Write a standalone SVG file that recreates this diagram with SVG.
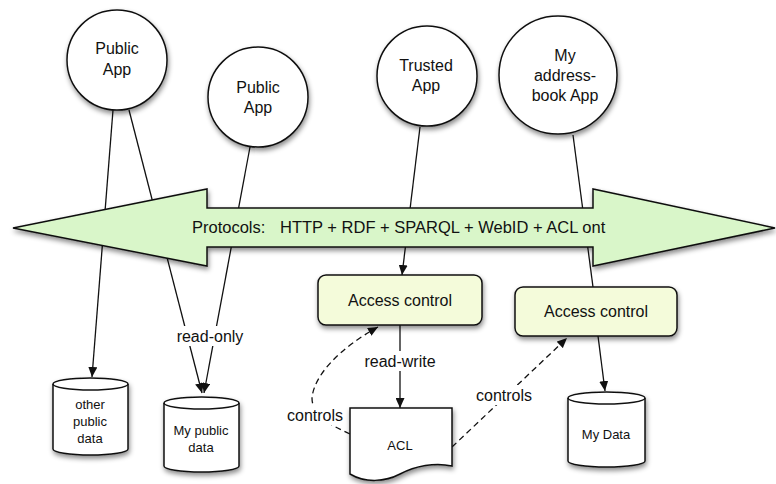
<svg xmlns="http://www.w3.org/2000/svg" width="776" height="484" viewBox="0 0 776 484">
<style>
text{font-family:"Liberation Sans",Arial,sans-serif;fill:#111;text-anchor:middle}
.big{font-size:16px}
.sm{font-size:13px}
.node{stroke:#111;stroke-width:1.5}
.circ{fill:#fff}
.box{fill:#f4fbda}
.doc{fill:#fff}
.cyl{fill:#fff}
.line{fill:none;stroke:#111;stroke-width:1.3}
.dash{fill:none;stroke:#111;stroke-width:1.3;stroke-dasharray:6,4}
.lbl{fill:#fff}
</style>
<defs>
<filter id="sh" x="-20%" y="-20%" width="140%" height="150%">
<feDropShadow dx="1" dy="3" stdDeviation="2.5" flood-color="#000" flood-opacity="0.45"/>
</filter>
<marker id="ah" markerUnits="userSpaceOnUse" markerWidth="10" markerHeight="9" refX="10" refY="4.5" orient="auto">
<path d="M0,0 L10,4.5 L0,9 z" fill="#111"/>
</marker>
</defs>
<rect width="776" height="484" fill="#fff"/>
<g id="connectors">
<line class="line" x1="113" y1="110" x2="92" y2="377" marker-end="url(#ah)"/>
<line class="line" x1="129" y1="110" x2="202" y2="393" marker-end="url(#ah)"/>
<line class="line" x1="250" y1="147" x2="204" y2="393" marker-end="url(#ah)"/>
<line class="line" x1="420" y1="127" x2="402" y2="275" marker-end="url(#ah)"/>
<line class="line" x1="573" y1="135" x2="593" y2="287"/>
<line class="line" x1="400" y1="325" x2="400" y2="408" marker-end="url(#ah)"/>
<line class="line" x1="598" y1="336" x2="605" y2="391" marker-end="url(#ah)"/>
<path class="dash" d="M350,434 C330,425 312,415 312,398 C314,375 340,348 378,327" marker-end="url(#ah)"/>
<line class="dash" x1="452" y1="447" x2="567" y2="338" marker-end="url(#ah)"/>
<rect class="lbl" x="176" y="326" width="68" height="20"/>
<text class="big" x="210" y="342">read-only</text>
<rect class="lbl" x="362" y="351" width="76" height="20"/>
<text class="big" x="400" y="367">read-write</text>
<rect class="lbl" x="285" y="405" width="60" height="20"/>
<text class="big" x="315" y="421">controls</text>
<rect class="lbl" x="473" y="385" width="62" height="20"/>
<text class="big" x="504" y="401">controls</text>
</g>
<g id="protocols">
<path class="node" fill="#d9f6c9" filter="url(#sh)" d="M13,228 L207,189 L207,208 L593,208 L593,189 L775,228 L593,266 L593,247 L207,247 L207,266 Z"/>
<text x="192" y="233" style="text-anchor:start;font-size:16.5px">Protocols:<tspan x="280">HTTP + RDF + SPARQL + WebID + ACL ont</tspan></text>
</g>
<g id="public-app-1">
<circle class="node circ" filter="url(#sh)" cx="117" cy="60" r="50"/>
<text class="big" x="117" y="54">Public</text>
<text class="big" x="117" y="75">App</text>
</g>
<g id="public-app-2">
<circle class="node circ" filter="url(#sh)" cx="258" cy="97" r="50"/>
<text class="big" x="258" y="93">Public</text>
<text class="big" x="258" y="113">App</text>
</g>
<g id="trusted-app">
<circle class="node circ" filter="url(#sh)" cx="427" cy="76" r="50"/>
<text class="big" x="426" y="71">Trusted</text>
<text class="big" x="426" y="91">App</text>
</g>
<g id="addressbook-app">
<circle class="node circ" filter="url(#sh)" cx="558" cy="75" r="59"/>
<text class="big" x="565" y="61">My</text>
<text class="big" x="565" y="81">address-</text>
<text class="big" x="565" y="101">book App</text>
</g>
<g id="access-control-1">
<rect class="node box" filter="url(#sh)" x="318" y="275" width="164" height="50" rx="8"/>
<text class="big" x="400" y="306">Access control</text>
</g>
<g id="access-control-2">
<rect class="node box" filter="url(#sh)" x="515" y="287" width="162" height="49" rx="8"/>
<text class="big" x="596" y="317">Access control</text>
</g>
<g id="other-public-data">
<path class="node cyl" filter="url(#sh)" d="M53,384 A37.5,6 0 0 1 128,384 V449 A37.5,6 0 0 1 53,449 Z"/>
<path class="node" fill="none" d="M53,384 A37.5,6 0 0 0 128,384"/>
<text class="sm" x="90" y="409">other</text>
<text class="sm" x="90" y="426">public</text>
<text class="sm" x="90" y="443">data</text>
</g>
<g id="my-public-data">
<path class="node cyl" filter="url(#sh)" d="M164,403 A37.5,6 0 0 1 239,403 V466 A37.5,6 0 0 1 164,466 Z"/>
<path class="node" fill="none" d="M164,403 A37.5,6 0 0 0 239,403"/>
<text class="sm" x="201" y="435">My public</text>
<text class="sm" x="201" y="452">data</text>
</g>
<g id="acl">
<path class="node doc" filter="url(#sh)" d="M350,408 H452 V466 C435,462 415,466 400,474 C385,482 365,483 350,474 Z"/>
<text class="sm" x="400" y="450">ACL</text>
</g>
<g id="my-data">
<path class="node cyl" filter="url(#sh)" d="M568,398 A38.5,6 0 0 1 645,398 V461 A38.5,6 0 0 1 568,461 Z"/>
<path class="node" fill="none" d="M568,398 A38.5,6 0 0 0 645,398"/>
<text class="sm" x="606" y="439">My Data</text>
</g>
</svg>
